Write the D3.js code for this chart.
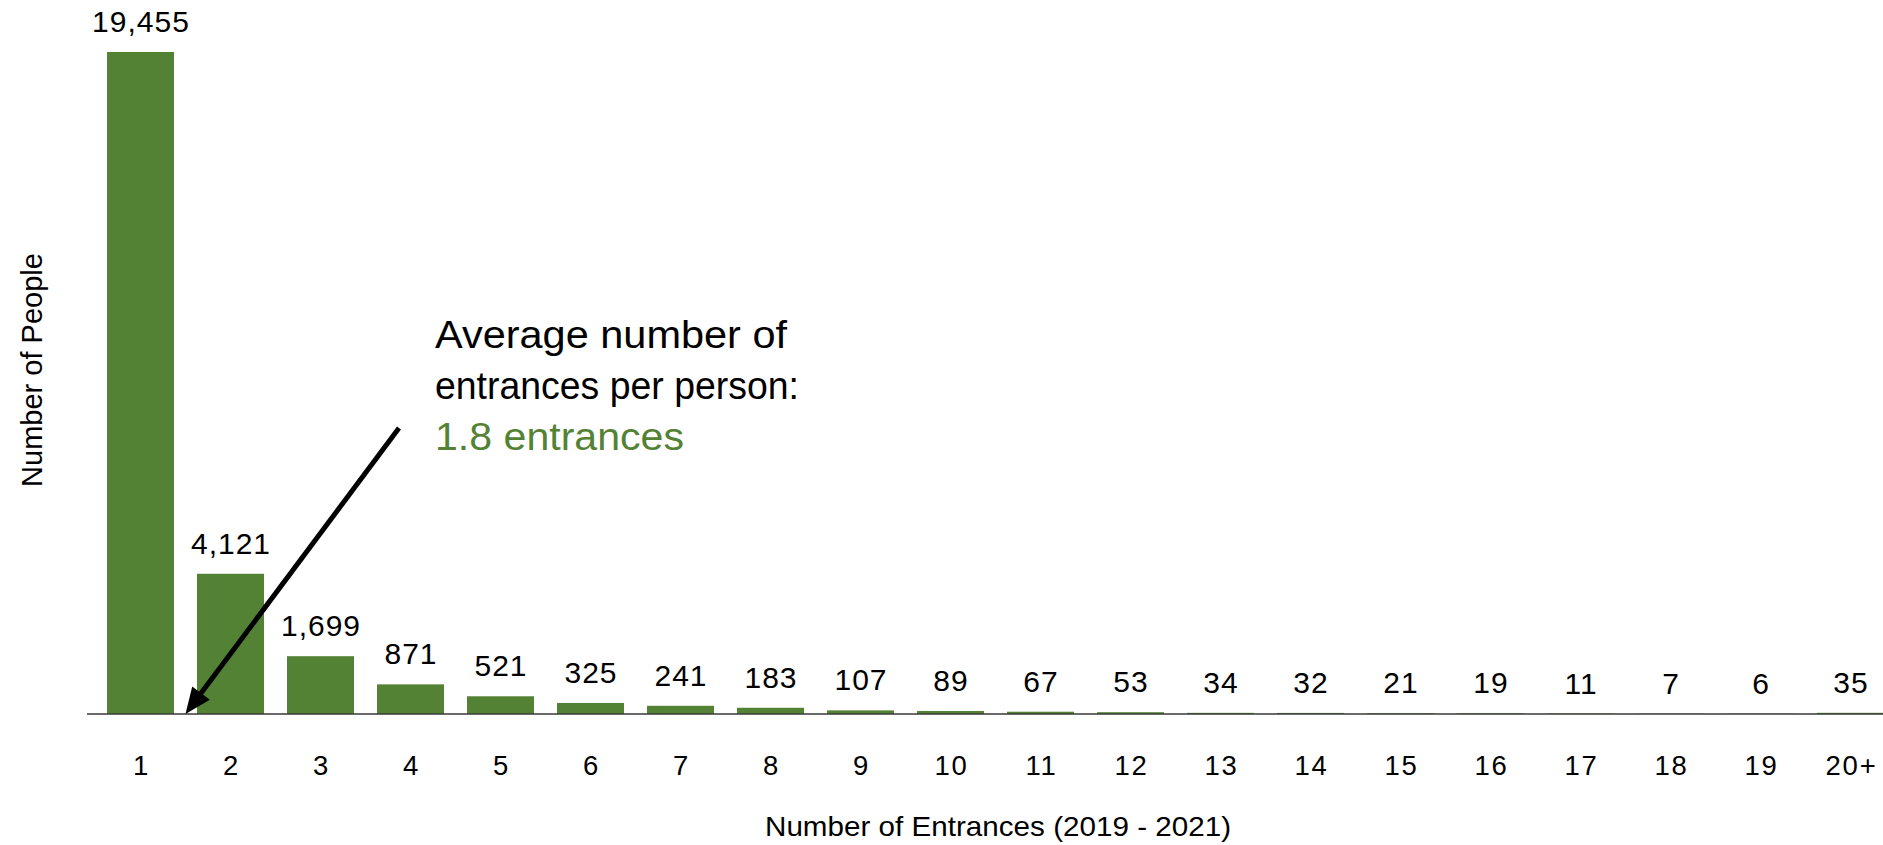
<!DOCTYPE html>
<html>
<head>
<meta charset="utf-8">
<script src="https://cdn.jsdelivr.net/npm/d3@7"></script>
<style>
  html, body { margin: 0; padding: 0; background: #ffffff; }
  svg { display: block; }
</style>
</head>
<body>
<svg id="chart" width="1883" height="845"></svg>
<script>
// Number of entrances per person, 2019 - 2021
const categories = ["1","2","3","4","5","6","7","8","9","10","11","12","13","14","15","16","17","18","19","20+"];
const people     = [19455, 4121, 1699, 871, 521, 325, 241, 183, 107, 89, 67, 53, 34, 32, 21, 19, 11, 7, 6, 35];
const xTitle = "Number of Entrances (2019 - 2021)";
const yTitle = "Number of People";
const noteLines = ["Average number of", "entrances per person:"];
const noteValue = "1.8 entrances";

const green = "#548235";
const font = "'Liberation Sans', Arial, sans-serif";
const svg = d3.select("#chart");

const baseY = 714, topY = 52;
const x = d3.scaleBand()
  .domain(categories)
  .range([95.5, 1895.5])
  .paddingInner(0.2556)
  .paddingOuter(0.1278);
const y = d3.scaleLinear().domain([0, d3.max(people)]).range([baseY, topY]);

const data = categories.map((c, i) => ({ c, v: people[i] }));

// bars
svg.append("g").selectAll("rect").data(data).join("rect")
  .attr("x", d => x(d.c))
  .attr("y", d => y(d.v))
  .attr("width", x.bandwidth())
  .attr("height", d => y(0) - y(d.v))
  .attr("fill", green);

// value labels
svg.append("g").selectAll("text").data(data).join("text")
  .attr("x", d => x(d.c) + x.bandwidth() / 2 + 0.5)
  .attr("y", d => y(d.v) - 20)
  .attr("text-anchor", "middle")
  .style("font-family", font)
  .style("font-size", "30px")
  .style("letter-spacing", "1px")
  .attr("fill", "#000")
  .text(d => d3.format(",")(d.v));

// category axis
const xAxis = d3.axisBottom(x).tickSize(0).tickPadding(0);
const gx = svg.append("g").attr("transform", `translate(0,${baseY})`).call(xAxis);
gx.select(".domain").remove();
gx.selectAll("text")
  .attr("y", 61)
  .attr("dy", 0)
  .attr("dx", 1)
  .style("font-family", font)
  .style("font-size", "27.5px")
  .style("letter-spacing", "1.8px")
  .attr("fill", "#000");

// baseline
svg.append("line")
  .attr("x1", 87).attr("x2", 1883)
  .attr("y1", y(0)).attr("y2", y(0))
  .attr("stroke", "#3a3a3a")
  .attr("stroke-width", 1.5);

// axis titles
svg.append("text")
  .attr("x", 998).attr("y", 836)
  .attr("text-anchor", "middle")
  .attr("textLength", 466)
  .attr("lengthAdjust", "spacingAndGlyphs")
  .style("font-family", font)
  .style("font-size", "28px")
  .attr("fill", "#000")
  .text(xTitle);

svg.append("text")
  .attr("transform", "translate(42,370) rotate(-90)")
  .attr("text-anchor", "middle")
  .style("font-family", font)
  .style("font-size", "29px")
  .attr("fill", "#000")
  .text(yTitle);

// annotation
const noteX = 435, noteY = 348, lineH = 51;
const noteWidths = [352, 364, 249];
const note = svg.append("text")
  .style("font-family", font)
  .style("font-size", "38px")
  .attr("fill", "#000");
noteLines.forEach((t, i) => {
  note.append("tspan").attr("x", noteX).attr("y", noteY + i * lineH)
    .attr("textLength", noteWidths[i]).attr("lengthAdjust", "spacingAndGlyphs")
    .text(t);
});
note.append("tspan").attr("x", noteX).attr("y", noteY + 2 * lineH)
  .attr("textLength", noteWidths[2]).attr("lengthAdjust", "spacingAndGlyphs")
  .attr("fill", green).text(noteValue);

// arrow pointing into the gap after the first bar
const tipX = (x("1") + x.bandwidth() + x("2")) / 2;
const tipY = y(0);
const startX = noteX - 36, startY = noteY + 2 * lineH - 22;
const ang = Math.atan2(tipY - startY, tipX - startX);
const headLen = 26, headHalf = 11;
const bx = tipX - headLen * Math.cos(ang), by = tipY - headLen * Math.sin(ang);
svg.append("line")
  .attr("x1", startX).attr("y1", startY)
  .attr("x2", bx + 2 * Math.cos(ang)).attr("y2", by + 2 * Math.sin(ang))
  .attr("stroke", "#000").attr("stroke-width", 5);
svg.append("path")
  .attr("d", d3.line()([
    [tipX, tipY],
    [bx - headHalf * Math.sin(ang), by + headHalf * Math.cos(ang)],
    [bx + headHalf * Math.sin(ang), by - headHalf * Math.cos(ang)]
  ]) + "Z")
  .attr("fill", "#000");
</script>
</body>
</html>
